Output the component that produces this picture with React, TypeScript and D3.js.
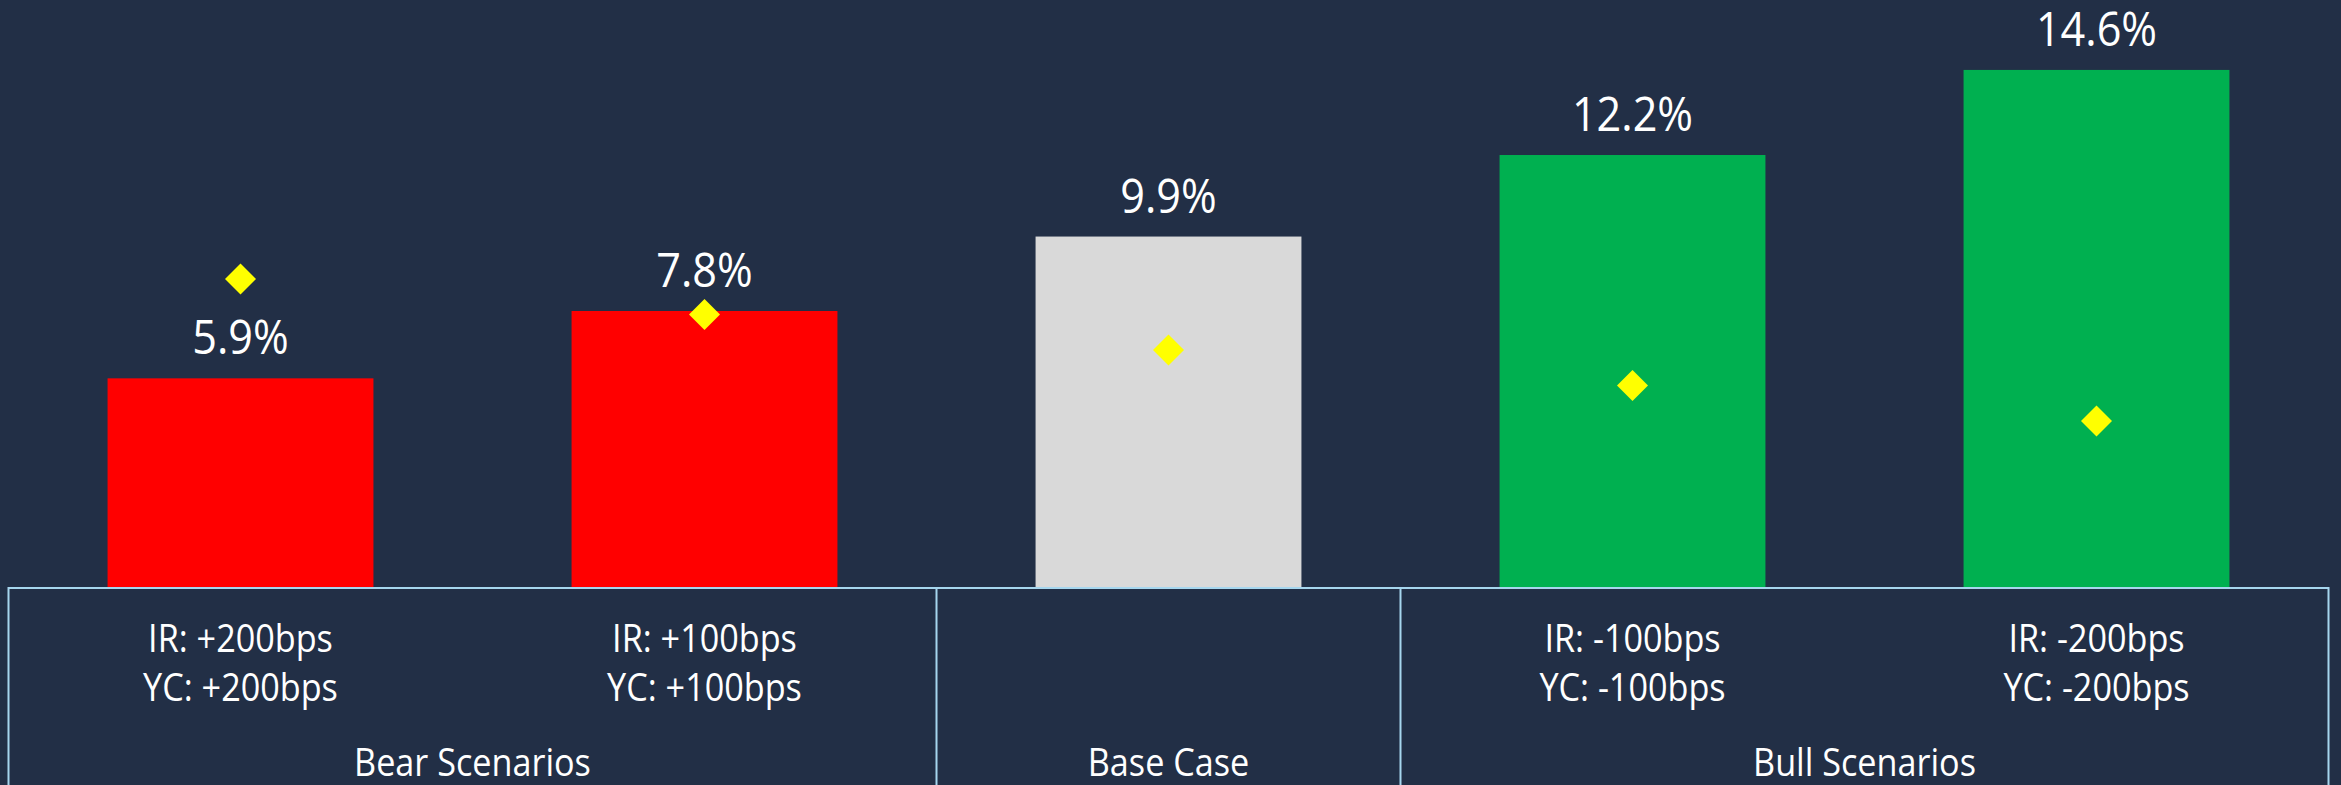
import React from "react";
import * as d3 from "d3";

const irLabels = ["IR: +200bps", "IR: +100bps", "", "IR: -100bps", "IR: -200bps"];
const ycLabels = ["YC: +200bps", "YC: +100bps", "", "YC: -100bps", "YC: -200bps"];
const scenarioIds = ["bear200", "bear100", "base", "bull100", "bull200"];
const barValues = [5.9, 7.8, 9.9, 12.2, 14.6];
const markerValues = [8.7, 7.7, 6.7, 5.7, 4.7];
const groupNames = ["Bear Scenarios", "Base Case", "Bull Scenarios"];
const groupSizes = [2, 1, 2];

const W = 2341;
const H = 785;
const BG = "#222F46";
const LINE = "#A6D6EE";
const groupColors = ["#FF0000", "#D9D9D9", "#00B050"];
const FONT = "'Open Sans', 'Noto Sans', sans-serif";
const SX = 0.9;

export default function App() {
  const x = d3
    .scaleBand<string>()
    .domain(scenarioIds)
    .range([8.5, 2328.5])
    .paddingInner(0.427)
    .paddingOuter(0.2135);
  const y = d3.scaleLinear().domain([0, 16]).range([587.5, 587.5 - 16 * 35.45]);
  const step = x.step();
  const bw = x.bandwidth();
  const fmt = d3.format(".1f");
  const diamond = d3.symbol(d3.symbolSquare, 480)() as string;

  const groupOf: number[] = [];
  groupSizes.forEach((n, g) => {
    for (let i = 0; i < n; i++) groupOf.push(g);
  });

  const cx = (i: number) => (x(scenarioIds[i]) as number) + bw / 2;
  const leftEdge = (i: number) => cx(i) - step / 2;
  const rightEdge = (i: number) => cx(i) + step / 2;

  const groups: { name: string; x0: number; x1: number }[] = [];
  let start = 0;
  groupSizes.forEach((n, g) => {
    groups.push({ name: groupNames[g], x0: leftEdge(start), x1: rightEdge(start + n - 1) });
    start += n;
  });

  const baseY = y(0);

  return (
    <svg
      width={W}
      height={H}
      style={{ position: "absolute", left: 0, top: 0, display: "block" }}
    >
      <rect x={0} y={0} width={W} height={H} fill={BG} />
      {barValues.map((v, i) => (
        <rect
          key={"b" + i}
          x={x(scenarioIds[i])}
          y={y(v)}
          width={bw}
          height={baseY - y(v)}
          fill={groupColors[groupOf[i]]}
        />
      ))}
      {barValues.map((v, i) => (
        <g key={"l" + i} transform={`translate(${cx(i)},${y(v) - 24}) scale(${SX},1)`}>
          <text textAnchor="middle" fill="#FFFFFF" fontFamily={FONT} fontSize={48}>
            {fmt(v) + "%"}
          </text>
        </g>
      ))}
      {markerValues.map((v, i) => (
        <path
          key={"m" + i}
          d={diamond}
          transform={`translate(${cx(i)},${y(v)}) rotate(45)`}
          fill="#FFFF00"
        />
      ))}
      {/* box lines */}
      <line x1={groups[0].x0} x2={groups[groups.length - 1].x1} y1={588} y2={588} stroke={LINE} strokeWidth={2} />
      {groups.map((g, gi) => (
        <line key={"v" + gi} x1={g.x0} x2={g.x0} y1={587} y2={H} stroke={LINE} strokeWidth={2} />
      ))}
      <line
        x1={groups[groups.length - 1].x1}
        x2={groups[groups.length - 1].x1}
        y1={587}
        y2={H}
        stroke={LINE}
        strokeWidth={2}
      />
      {irLabels.map((t, i) => (
        <g key={"c" + i} transform={`translate(${cx(i)},0) scale(${SX},1)`}>
          <text x={0} y={652} textAnchor="middle" fill="#FFFFFF" fontFamily={FONT} fontSize={38}>
            {t}
          </text>
          <text x={0} y={701} textAnchor="middle" fill="#FFFFFF" fontFamily={FONT} fontSize={38}>
            {ycLabels[i]}
          </text>
        </g>
      ))}
      {groups.map((g, gi) => (
        <g key={"g" + gi} transform={`translate(${(g.x0 + g.x1) / 2},776) scale(${SX},1)`}>
          <text textAnchor="middle" fill="#FFFFFF" fontFamily={FONT} fontSize={38}>
            {g.name}
          </text>
        </g>
      ))}
    </svg>
  );
}
